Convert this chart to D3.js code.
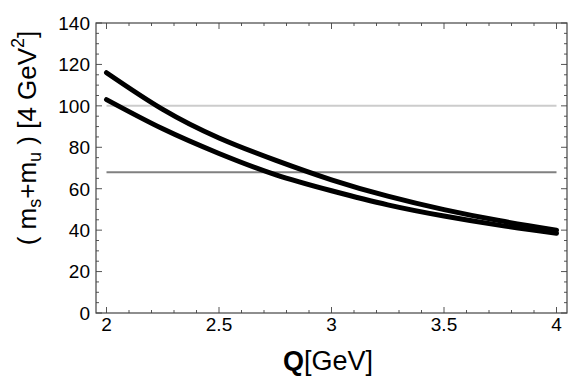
<!DOCTYPE html>
<html><head><meta charset="utf-8">
<script src="https://cdn.jsdelivr.net/npm/d3@7"></script>
<style>body{margin:0;background:#fff}svg{display:block}text{font-family:"Liberation Sans",Arial,sans-serif;fill:#000}</style>
</head><body>
<script>
const qValues = [2, 2.25, 2.5, 2.75, 3, 3.25, 3.5, 3.75, 4];
const upperCurve = [116, 98.3, 84.5, 73.8, 64.3, 56.4, 49.9, 44.5, 40];
const lowerCurve = [103, 88.9, 77, 66.8, 59, 52.2, 46.8, 42.3, 38.5];
const refLines = [{value: 100, color: "#cccccc"}, {value: 68, color: "#808080"}];
const xTicks = [2, 2.5, 3, 3.5, 4];
const xTickLabels = ["2", "2.5", "3", "3.5", "4"];
const yTicks = [0, 20, 40, 60, 80, 100, 120, 140];

const W = 581, H = 382;
const L = 96, R = 567, T = 23, B = 313;
const svg = d3.select("body").append("svg").attr("width", W).attr("height", H);

const x = d3.scaleLinear().domain([2, 4]).range([106.5, 556.5]);
const y = d3.scaleLinear().domain([0, 140]).range([B, T]);

// ticks (inside frame)
const g = svg.append("g").attr("stroke", "#555").attr("stroke-width", 1);
const xMinor = d3.range(19, 41).map(d => d / 10).filter(d => x(d) > L && x(d) < R);
xMinor.forEach(d => {
  const major = Math.abs(d * 2 - Math.round(d * 2)) < 1e-6;
  const len = major ? 6 : 3;
  g.append("line").attr("x1", x(d)).attr("x2", x(d)).attr("y1", B).attr("y2", B - len);
  g.append("line").attr("x1", x(d)).attr("x2", x(d)).attr("y1", T).attr("y2", T + len);
});
d3.range(0, 141, 5).forEach(d => {
  const major = d % 20 === 0;
  const len = major ? 6 : 3;
  g.append("line").attr("x1", L).attr("x2", L + len).attr("y1", y(d)).attr("y2", y(d));
  g.append("line").attr("x1", R).attr("x2", R - len).attr("y1", y(d)).attr("y2", y(d));
});

// reference lines
refLines.forEach(r => {
  svg.append("line").attr("x1", x(2)).attr("x2", x(4)).attr("y1", y(r.value)).attr("y2", y(r.value))
    .attr("stroke", r.color).attr("stroke-width", 2);
});

// curves
const line = d3.line().x((d, i) => x(qValues[i])).y(d => y(d)).curve(d3.curveNatural);
[upperCurve, lowerCurve].forEach(c => {
  svg.append("path").attr("d", line(c)).attr("fill", "none").attr("stroke", "#000")
    .attr("stroke-width", 5).attr("stroke-linecap", "round");
});

// frame
svg.append("rect").attr("x", L).attr("y", T).attr("width", R - L).attr("height", B - T)
  .attr("fill", "none").attr("stroke", "#444").attr("stroke-width", 1.2);

// tick labels
xTicks.forEach((d, i) => {
  svg.append("text").attr("x", x(d)).attr("y", 331).attr("text-anchor", "middle")
    .attr("font-size", 19).text(xTickLabels[i]);
});
yTicks.forEach(d => {
  svg.append("text").attr("x", 90).attr("y", y(d)).attr("dy", "0.36em").attr("text-anchor", "end")
    .attr("font-size", 19).text(d);
});

// axis titles
const xt = svg.append("text").attr("x", 328).attr("y", 370).attr("text-anchor", "middle").attr("font-size", 27);
xt.append("tspan").attr("font-weight", "bold").text("Q");
xt.append("tspan").text("[GeV]");

const yt = svg.append("text").attr("transform", "translate(36,138) rotate(-90)")
  .attr("text-anchor", "middle").attr("font-size", 26);
yt.append("tspan").text("( m");
yt.append("tspan").attr("font-size", 18).attr("dy", 5).text("s");
yt.append("tspan").attr("dy", -5).text("+m");
yt.append("tspan").attr("font-size", 18).attr("dy", 5).text("u");
yt.append("tspan").attr("dy", -5).text(" ) [4 GeV");
yt.append("tspan").attr("font-size", 18).attr("dy", -12).text("2");
yt.append("tspan").attr("dy", 12).text("]");
</script>
</body></html>
